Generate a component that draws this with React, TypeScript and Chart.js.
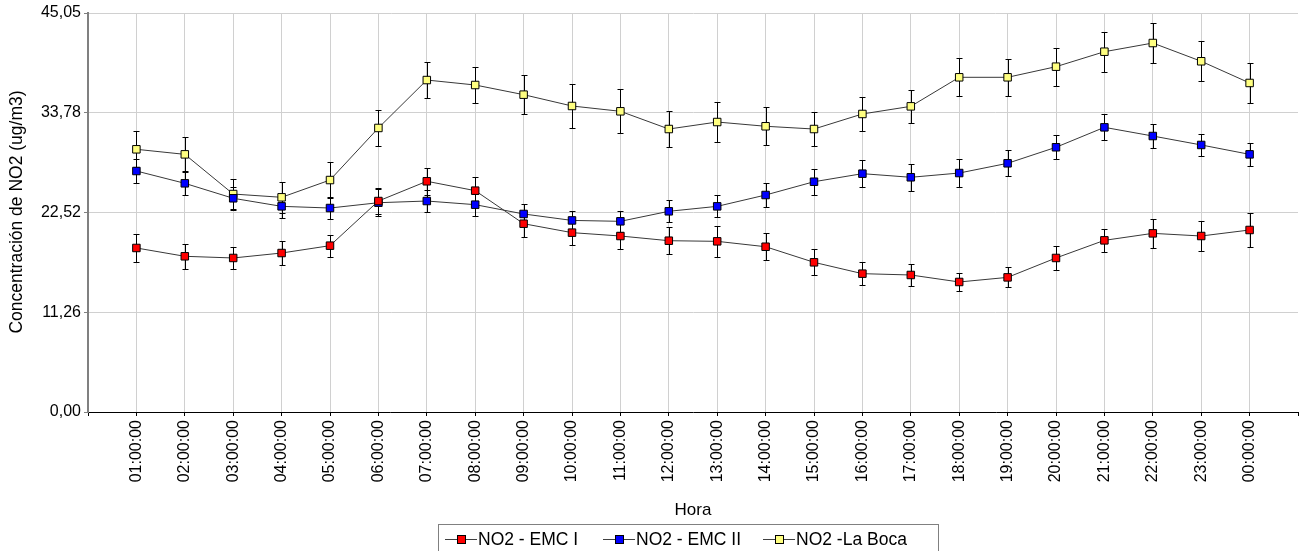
import React, { useEffect, useRef } from "react";
import { Chart, registerables } from "chart.js";

Chart.register(...registerables);

const hours = [
  "01:00:00", "02:00:00", "03:00:00", "04:00:00", "05:00:00", "06:00:00",
  "07:00:00", "08:00:00", "09:00:00", "10:00:00", "11:00:00", "12:00:00",
  "13:00:00", "14:00:00", "15:00:00", "16:00:00", "17:00:00", "18:00:00",
  "19:00:00", "20:00:00", "21:00:00", "22:00:00", "23:00:00", "00:00:00",
];

const yTickValues = [0, 11.26, 22.52, 33.78, 45.05];

const emc1 = [18.52, 17.58, 17.39, 17.95, 18.78, 23.82, 26.05, 24.99, 21.26, 20.25, 19.87, 19.34, 19.27, 18.66, 16.9, 15.62, 15.47, 14.68, 15.2, 17.39, 19.38, 20.17, 19.87, 20.55];
const emc1Err = [1.55, 1.39, 1.24, 1.35, 1.24, 1.5, 1.5, 1.5, 1.47, 1.43, 1.47, 1.5, 1.73, 1.54, 1.47, 1.28, 1.28, 1.05, 1.13, 1.32, 1.32, 1.62, 1.66, 1.88];

const emc2 = [27.21, 25.82, 24.13, 23.22, 23.03, 23.63, 23.82, 23.41, 22.36, 21.63, 21.53, 22.66, 23.22, 24.5, 26.0, 26.91, 26.5, 26.98, 28.08, 29.89, 32.14, 31.16, 30.15, 29.09];
const emc2Err = [1.3, 1.33, 1.28, 1.32, 1.24, 1.5, 1.24, 1.24, 1.09, 1.05, 1.16, 1.24, 1.24, 1.35, 1.47, 1.54, 1.54, 1.54, 1.47, 1.35, 1.47, 1.39, 1.28, 1.32];

const laBoca = [29.66, 29.09, 24.61, 24.24, 26.19, 32.07, 37.48, 36.92, 35.83, 34.55, 33.95, 31.95, 32.74, 32.26, 31.95, 33.65, 34.51, 37.79, 37.79, 38.99, 40.68, 41.66, 39.6, 37.15];
const laBocaErr = [2.03, 1.92, 1.66, 1.73, 2.03, 2.0, 2.0, 2.0, 2.22, 2.45, 2.48, 2.07, 2.26, 2.15, 1.96, 1.96, 1.88, 2.15, 2.07, 2.15, 2.26, 2.26, 2.26, 2.22];

const seriesNames = ["NO2 - EMC I", "NO2 - EMC II", "NO2 -La Boca"];
const seriesColors = ["#ff0000", "#0000ff", "#ffff80"];
const seriesValues = [emc1, emc2, laBoca];
const seriesErrors = [emc1Err, emc2Err, laBocaErr];

const yTitle = "Concentración de NO2 (ug/m3)";
const xTitle = "Hora";

const FONT = "Liberation Sans, Arial, sans-serif";

const errorBarPlugin = {
  id: "errorBars",
  beforeDatasetsDraw(chart: any) {
    const ctx = chart.ctx;
    const yScale = chart.scales.y;
    ctx.save();
    ctx.strokeStyle = "#000";
    ctx.lineWidth = 1;
    chart.data.datasets.forEach((ds: any, i: number) => {
      const meta = chart.getDatasetMeta(i);
      const errs = seriesErrors[i];
      meta.data.forEach((pt: any, j: number) => {
        const v = ds.data[j].y;
        const e = errs[j];
        const x = Math.round(pt.x) + 0.5;
        const yt = Math.round(yScale.getPixelForValue(v + e)) + 0.5;
        const yb = Math.round(yScale.getPixelForValue(v - e)) + 0.5;
        ctx.beginPath();
        ctx.moveTo(x, yt);
        ctx.lineTo(x, yb);
        ctx.moveTo(x - 3, yt);
        ctx.lineTo(x + 3, yt);
        ctx.moveTo(x - 3, yb);
        ctx.lineTo(x + 3, yb);
        ctx.stroke();
      });
    });
    ctx.restore();
  },
};

const decorPlugin = {
  id: "decor",
  afterDraw(chart: any) {
    const ctx = chart.ctx;
    const area = chart.chartArea;
    ctx.save();
    ctx.fillStyle = "#000";
    ctx.font = `17.5px ${FONT}`;
    ctx.textAlign = "center";
    ctx.textBaseline = "middle";
    ctx.save();
    ctx.translate(17, 212);
    ctx.rotate(-Math.PI / 2);
    ctx.fillText(yTitle, 0, 0);
    ctx.restore();
    ctx.font = `17px ${FONT}`;
    ctx.fillText(xTitle, (area.left + area.right) / 2, 510);

    ctx.font = `17.5px ${FONT}`;
    const boxX = 438;
    const boxW = 500;
    const boxY = 524;
    ctx.strokeStyle = "#808080";
    ctx.lineWidth = 1;
    ctx.strokeRect(boxX + 0.5, boxY + 0.5, boxW, 30);
    const symStarts = [445, 603, 763];
    const symW = 32;
    const ly = 539;
    seriesNames.forEach((n, i) => {
      const x = symStarts[i];
      ctx.strokeStyle = "#404040";
      ctx.beginPath();
      ctx.moveTo(x, ly + 0.5);
      ctx.lineTo(x + symW, ly + 0.5);
      ctx.stroke();
      ctx.fillStyle = seriesColors[i];
      ctx.fillRect(x + symW / 2 - 4, ly - 4, 9, 9);
      ctx.strokeStyle = "#000";
      ctx.strokeRect(x + symW / 2 - 4 + 0.5, ly - 4 + 0.5, 8, 8);
      ctx.fillStyle = "#000";
      ctx.textAlign = "left";
      ctx.fillText(n, x + symW + 1, ly + 1);
    });
    ctx.restore();
  },
};

export default function App() {
  const ref = useRef<HTMLCanvasElement | null>(null);

  useEffect(() => {
    if (!ref.current) return;
    document.body.style.overflow = "hidden";
    const chart = new Chart(ref.current, {
      type: "line",
      data: {
        datasets: seriesValues.map((vals, i) => ({
          label: seriesNames[i],
          data: vals.map((v, j) => ({ x: j + 1, y: v })),
          borderColor: "#383838",
          borderWidth: 1,
          backgroundColor: seriesColors[i],
          pointStyle: "rect",
          pointRadius: 5.3,
          pointBorderColor: "#000",
          pointBorderWidth: 1,
          pointBackgroundColor: seriesColors[i],
          tension: 0,
          fill: false,
        })),
      },
      options: {
        animation: false,
        responsive: false,
        maintainAspectRatio: false,
        devicePixelRatio: 1,
        layout: { autoPadding: false, padding: { top: 13, right: 1, bottom: 0, left: 0 } },
        plugins: {
          legend: { display: false },
          tooltip: { enabled: false },
        },
        scales: {
          x: {
            type: "linear",
            min: 0,
            max: 25,
            afterFit: (s: any) => {
              s.height = 139;
              s.paddingLeft = 0;
              s.paddingRight = 0;
            },
            ticks: {
              stepSize: 1,
              autoSkip: false,
              minRotation: 90,
              maxRotation: 90,
              padding: 4,
              color: "#000",
              font: { family: FONT, size: 16 },
              callback: (v: any) => hours[Number(v) - 1] ?? "",
            },
            grid: {
              color: (c: any) =>
                c.tick && c.tick.value >= 1 && c.tick.value <= 24 ? "#d0d0d0" : "rgba(0,0,0,0)",
              tickColor: "#000",
              tickLength: 4,
              lineWidth: 1,
            },
            border: { color: "#000", width: 1 },
          },
          y: {
            min: 0,
            max: 45.05,
            afterFit: (s: any) => {
              s.width = 88;
              s.paddingTop = 0;
              s.paddingBottom = 0;
            },
            afterBuildTicks: (s: any) => {
              s.ticks = yTickValues.map((v) => ({ value: v }));
            },
            ticks: {
              padding: 3,
              color: "#000",
              font: { family: FONT, size: 16 },
              callback: (v: any) => Number(v).toFixed(2).replace(".", ","),
            },
            grid: {
              color: (c: any) => (c.tick && c.tick.value > 0 ? "#d0d0d0" : "rgba(0,0,0,0)"),
              tickColor: "#808080",
              tickLength: 4,
              lineWidth: 1,
            },
            border: { color: "#808080", width: 2 },
          },
        },
      },
      plugins: [errorBarPlugin, decorPlugin],
    } as any);
    return () => chart.destroy();
  }, []);

  return (
    <div style={{ position: "absolute", left: 0, top: 0, width: 1299, height: 551, background: "#fff" }}>
      <canvas ref={ref} width={1299} height={551} style={{ display: "block", width: 1299, height: 551 }} />
    </div>
  );
}
